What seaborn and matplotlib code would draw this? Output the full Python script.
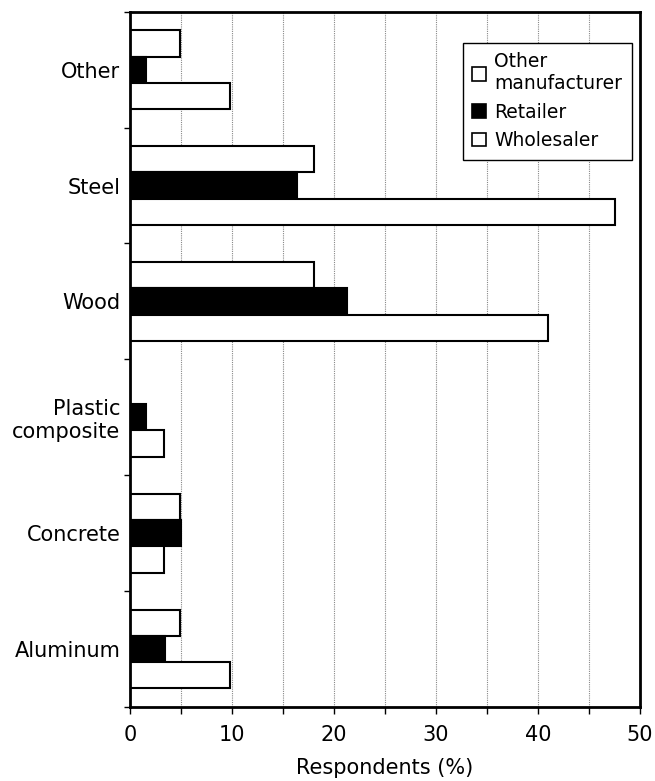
import pandas as pd
import matplotlib.pyplot as plt
import seaborn as sns
from matplotlib.ticker import MultipleLocator, FixedLocator

# Datos
materiales = ["Other", "Steel", "Wood", "Plastic\ncomposite", "Concrete", "Aluminum"]
grupos = ["Other\nmanufacturer", "Retailer", "Wholesaler"]
otro_fabricante = [4.9, 18.0, 18.0, 0.0, 4.9, 4.9]
minorista = [1.6, 16.4, 21.3, 1.6, 5.0, 3.4]
mayorista = [9.8, 47.5, 41.0, 3.3, 3.3, 9.8]

datos = pd.DataFrame({
    "material": materiales * 3,
    "grupo": [grupos[0]] * 6 + [grupos[1]] * 6 + [grupos[2]] * 6,
    "valor": otro_fabricante + minorista + mayorista,
})

sns.set_style("white")
plt.rcParams["font.family"] = ["DejaVu Sans"]
plt.rcParams["text.color"] = "black"
plt.rcParams["axes.labelcolor"] = "black"
plt.rcParams["xtick.color"] = "black"
plt.rcParams["ytick.color"] = "black"

fig = plt.figure(figsize=(6.55, 7.81), dpi=100)
ax = fig.add_axes([0.1985, 0.0948, 0.7786, 0.8902])

colores = {grupos[0]: "white", grupos[1]: "black", grupos[2]: "white"}
sns.barplot(data=datos, x="valor", y="material", hue="grupo", order=materiales,
            hue_order=grupos, palette=colores, orient="h", width=0.68,
            edgecolor="black", linewidth=1.5, saturation=1, ax=ax)

# Ejes
ax.set_xlim(0, 50)
ax.set_ylim(5.5, -0.5)
ax.xaxis.set_major_locator(MultipleLocator(10))
ax.xaxis.set_minor_locator(MultipleLocator(5))
ax.tick_params(axis="x", which="both", direction="out", length=5, width=1,
               bottom=True, labelsize=15, pad=8)
ax.yaxis.set_minor_locator(FixedLocator([i - 0.5 for i in range(7)]))
ax.tick_params(axis="y", which="major", length=0, labelsize=15, pad=7)
ax.tick_params(axis="y", which="minor", direction="out", length=4, width=1,
               left=True)
for x in range(5, 50, 5):
    ax.axvline(x, color="#888888", linestyle=(0, (1, 1)), linewidth=0.8, zorder=0)
ax.set_axisbelow(True)

for lado in ax.spines.values():
    lado.set_color("black")
    lado.set_linewidth(2)

ax.set_xlabel("Respondents (%)", fontsize=15, labelpad=9)
ax.set_ylabel("")

# Leyenda
leyenda = ax.legend(loc="upper right", bbox_to_anchor=(0.984, 0.955),
                    borderaxespad=0, fontsize=13.5, handlelength=0.75,
                    handleheight=0.75, handletextpad=0.45, labelspacing=0.5,
                    borderpad=0.5, fancybox=False, framealpha=1,
                    edgecolor="black")
leyenda.get_frame().set_linewidth(1)
for h in leyenda.legend_handles:
    h.set_linewidth(1.2)

fig.savefig("out.png", dpi=100)
